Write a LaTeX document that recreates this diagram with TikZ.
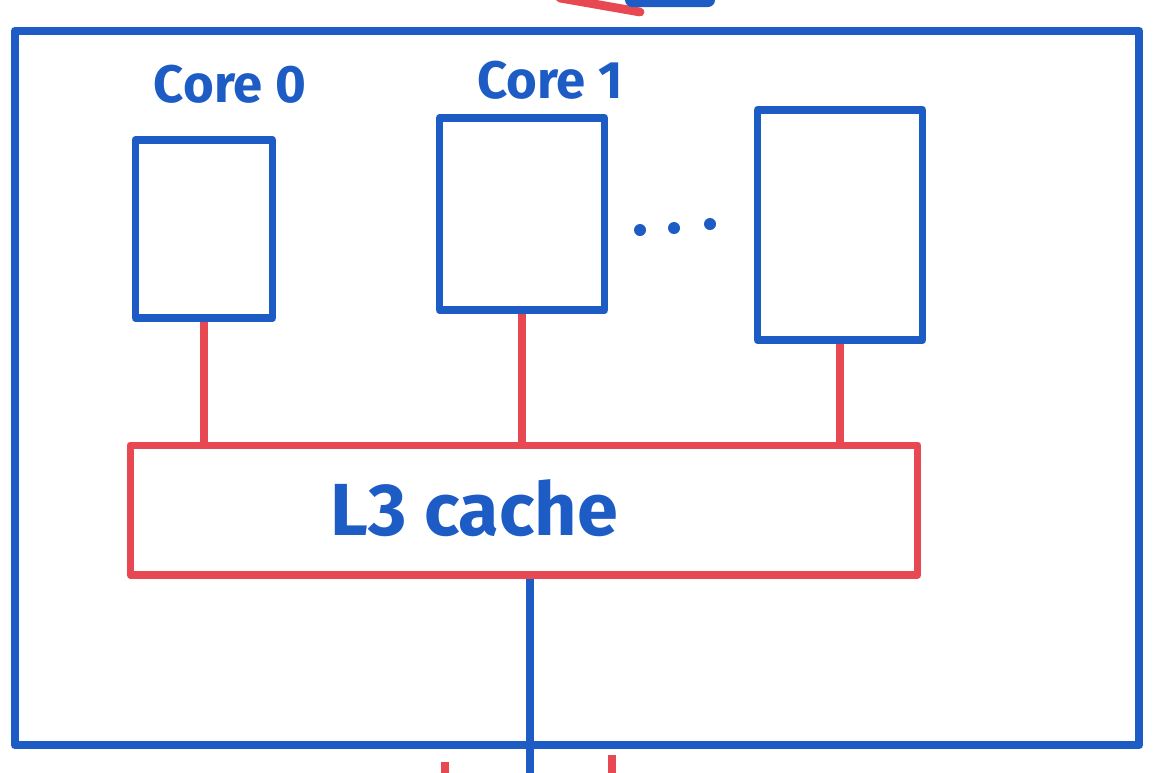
\documentclass[tikz,border=0pt]{standalone}
\usepackage{fontspec}
\setmainfont{Fira Sans}
\usetikzlibrary{positioning,calc}
\definecolor{bluepen}{RGB}{28,92,196}
\definecolor{redpen}{RGB}{232,72,82}

\begin{document}
\begin{tikzpicture}[x=0.02cm, y=-0.02cm,
  box/.style={draw=bluepen, line width=4.5pt, line join=round, inner sep=0pt},
  cachebox/.style={draw=redpen, line width=4pt, line join=round, inner sep=0pt},
  link/.style={draw=redpen, line width=4pt},
  wire/.style={draw=bluepen, line width=4.5pt},
  corelabel/.style={text=bluepen, font=\fontsize{30}{36}\selectfont\bfseries}
]
\useasboundingbox (0,0) rectangle (1176,772);

% chip outline
\node[box, minimum width=22.5cm, minimum height=14.3cm] (chip) at (577,388) {};

% cores
\node[box, minimum width=2.74cm, minimum height=3.56cm] (core0) at (204,229) {};
\node[box, minimum width=3.3cm, minimum height=3.84cm] (core1) at (522,214) {};
\node[box, minimum width=3.3cm, minimum height=4.6cm] (coren) at (840,225) {};
\node[corelabel] (lab0) at (230,84) {Core 0};
\node[corelabel] (lab1) at (550,80) {Core 1};
\foreach \px/\py in {640/230, 674/228, 710/224}
  \fill[bluepen] (\px,\py) circle (6);

% shared cache
\node[cachebox, minimum width=15.76cm, minimum height=2.6cm] (cache) at (524,510) {};
\node[text=bluepen, font=\fontsize{42}{50}\selectfont\bfseries] (l3) at (474,508) {L3 cache};

\draw[link] (core0.south) -- (core0.south |- cache.north);
\draw[link] (core1.south) -- (core1.south |- cache.north);
\draw[link] (coren.south) -- (coren.south |- cache.north);

\coordinate (bus) at (530,780);
\draw[wire] (cache.south -| bus) -- (bus);

% pieces cut off at the edges
\draw[redpen, line width=5pt, line cap=round] (560,-2) -- (640,12);
\fill[bluepen, rounded corners=4pt] (625,-10) rectangle (715,7);
\draw[redpen, line width=5pt] (445,762) -- (445,780);
\draw[redpen, line width=5pt] (612,755) -- (612,780);
\end{tikzpicture}
\end{document}
